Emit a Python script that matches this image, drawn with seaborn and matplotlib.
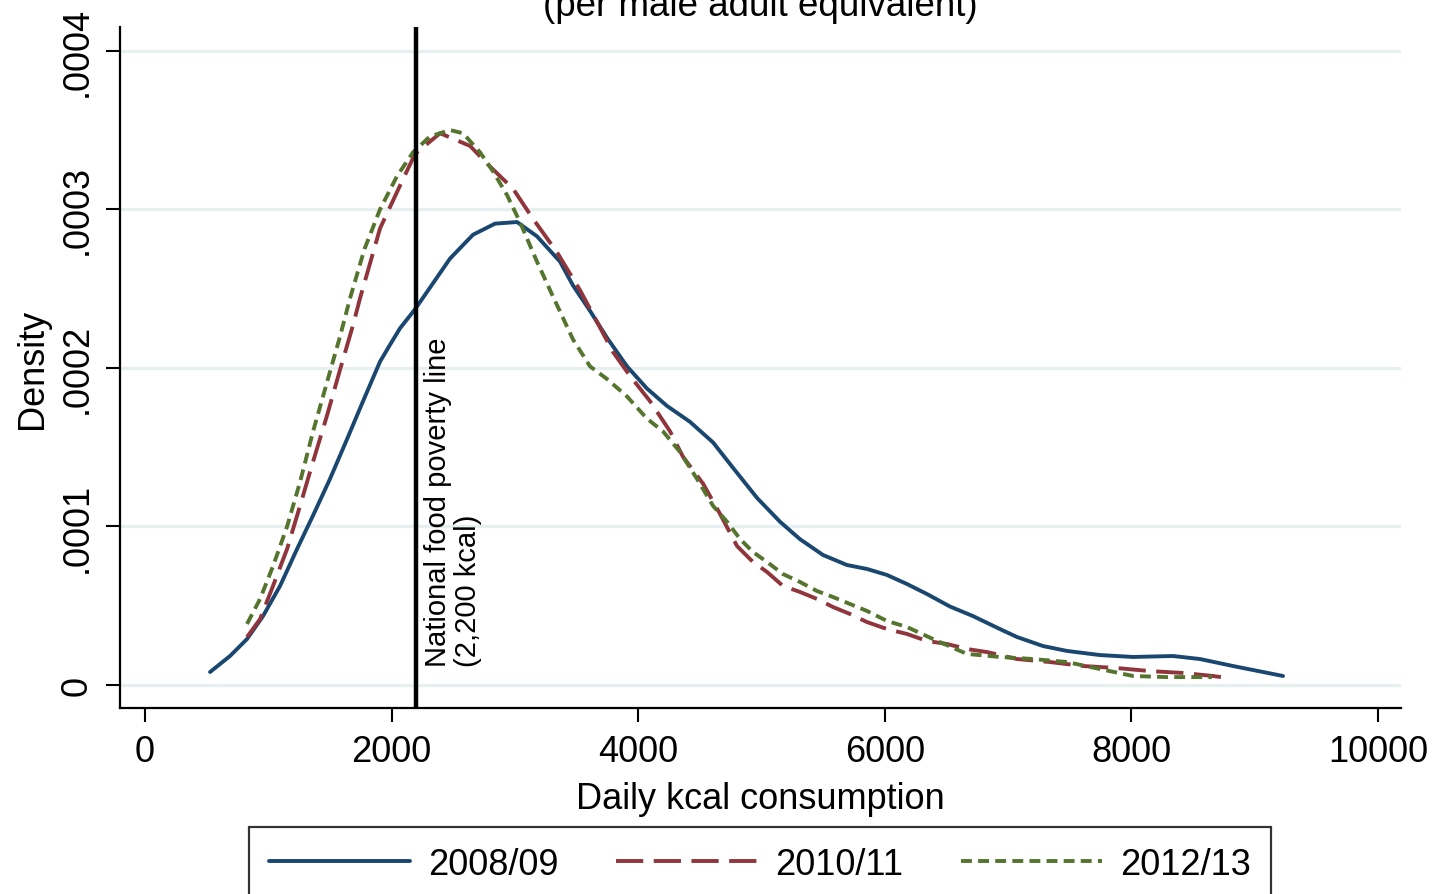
import numpy as np
import pandas as pd
import matplotlib
matplotlib.use("Agg")
import matplotlib.pyplot as plt
import seaborn as sns

# kernel density readings (kcal per male adult equivalent -> density)
kcal_0809 = [527, 689, 827, 957, 1095, 1233, 1363, 1500, 1638, 1768, 1906, 1990, 2068, 2190,
             2474, 2660, 2839, 3017, 3179, 3366, 3471, 3609, 3747, 3909, 4071, 4234,
             4420, 4607, 4769, 4964, 5150, 5312, 5499, 5693, 5856, 6018, 6180, 6342,
             6529, 6715, 6934, 7072, 7283, 7478, 7745, 8013, 8337, 8556, 8824, 9230]
dens_0809 = [0.0000082, 0.0000183, 0.000029, 0.0000435, 0.0000625, 0.0000858, 0.000107,
             0.00013, 0.000155, 0.000179, 0.000204, 0.000215, 0.000225, 0.000237, 0.000269,
             0.000284, 0.000291, 0.000292, 0.000283, 0.000267, 0.000252, 0.000236,
             0.000219, 0.000201, 0.000187, 0.000176, 0.000166, 0.000153, 0.000137,
             0.000118, 0.000103, 0.000092, 0.000082, 0.0000757, 0.0000732, 0.0000694,
             0.0000637, 0.0000574, 0.0000495, 0.0000435, 0.0000353, 0.0000303,
             0.0000246, 0.0000215, 0.0000189, 0.0000177, 0.0000183, 0.0000164,
             0.000012, 0.0000057]

kcal_1011 = [827, 933, 1038, 1152, 1257, 1363, 1476, 1582, 1687, 1744, 1906, 2068, 2190,
             2393, 2636, 2798, 2985, 3147, 3341, 3528, 3666, 3796, 3933, 4096, 4258,
             4363, 4526, 4663, 4801, 4931, 5045, 5174, 5312, 5450, 5580, 5718, 5856,
             6018, 6180, 6342, 6504, 6667, 6829, 7072, 7340, 7608, 7883, 8151, 8418,
             8662, 8783]
dens_1011 = [0.0000303, 0.0000416, 0.0000625, 0.0000858, 0.000113, 0.000141, 0.00017,
             0.000199, 0.000227, 0.000244, 0.000288, 0.000315, 0.000335, 0.000348,
             0.00034, 0.000327, 0.000313, 0.000294, 0.000273, 0.000249, 0.000229,
             0.00021, 0.000195, 0.000179, 0.00016, 0.000144, 0.000127, 0.000108,
             0.0000877, 0.0000776, 0.0000713, 0.0000625, 0.0000587, 0.0000543,
             0.0000492, 0.0000448, 0.0000397, 0.0000353, 0.0000322, 0.0000278,
             0.0000259, 0.0000227, 0.0000208, 0.0000164, 0.0000145, 0.000012,
             0.0000107, 0.0000088, 0.0000076, 0.0000057, 0.0000044]

kcal_1213 = [827, 933, 1038, 1152, 1257, 1363, 1476, 1582, 1663, 1780, 1906, 2044, 2174,
             2311, 2474, 2579, 2717, 2822, 2936, 3041, 3179, 3309, 3471, 3609, 3747,
             3909, 4071, 4201, 4339, 4477, 4607, 4720, 4826, 4931, 5045, 5174, 5312,
             5450, 5580, 5718, 5856, 6018, 6180, 6391, 6667, 6934, 7202, 7478, 7745,
             8013, 8289, 8654]
dens_1213 = [0.0000385, 0.0000543, 0.000075, 0.0001, 0.000128, 0.00016, 0.000191,
             0.00022, 0.000244, 0.000275, 0.0003, 0.000321, 0.000336, 0.000346,
             0.00035, 0.000348, 0.000336, 0.000324, 0.000309, 0.000292, 0.000267,
             0.000245, 0.000218, 0.000201, 0.000193, 0.000182, 0.000168, 0.00016,
             0.000147, 0.00013, 0.000113, 0.000103, 0.0000921, 0.0000839, 0.0000776,
             0.00007, 0.000065, 0.0000593, 0.0000555, 0.0000511, 0.0000467,
             0.0000404, 0.0000366, 0.000029, 0.0000196, 0.0000177, 0.0000164,
             0.0000145, 0.0000101, 0.0000057, 0.000005, 0.000005]

years = ["2008/09", "2010/11", "2012/13"]
x_ticks = [0, 2000, 4000, 6000, 8000, 10000]
y_ticks = [0, 0.0001, 0.0002, 0.0003, 0.0004]
y_tick_labels = ["0", ".0001", ".0002", ".0003", ".0004"]
poverty_line = 2200

sns.set_style("ticks")
plt.rcParams["font.family"] = ["Liberation Sans", "DejaVu Sans"]
plt.rcParams.update({"text.color": "black", "axes.labelcolor": "black",
                     "xtick.color": "black", "ytick.color": "black"})

fig = plt.figure(figsize=(14.35, 8.95), dpi=100)
ax = fig.add_axes([0.0833, 0.2078, 0.893, 0.7609])

# stata-like colours and patterns
colors = ["#1a476f", "#90353b", "#55752f"]
styles = ["-", (0, (7, 2.7)), (0, (2.8, 1.6))]
series = [(kcal_0809, dens_0809), (kcal_1011, dens_1011), (kcal_1213, dens_1213)]

for ax_y in y_ticks:
    ax.axhline(ax_y, color="#e8eff1", lw=2.4, zorder=0)

for (xs, ys), yr, c, ls in zip(series, years, colors, styles):
    df = pd.DataFrame({"kcal": xs, "density": ys})
    sns.lineplot(data=df, x="kcal", y="density", color=c, linewidth=2.8,
                 linestyle=ls, label=yr, sort=False, estimator=None, ax=ax, zorder=3)

if ax.get_legend() is not None:
    ax.get_legend().remove()

ax.axvline(poverty_line, color="black", lw=3.2, zorder=4)
ax.text(poverty_line + 60, 0.000012, "National food poverty line\n(2,200 kcal)",
        rotation=90, ha="left", va="bottom", fontsize=21, linespacing=1.1)

ax.set_xlim(-207, 10187)
ax.set_ylim(-0.0000145, 0.000415)
ax.set_xticks(x_ticks)
ax.set_xticklabels([str(t) for t in x_ticks])
ax.set_yticks(y_ticks)
ax.set_yticklabels(y_tick_labels, rotation=90, va="center")
ax.tick_params(axis="both", labelsize=26, length=10, width=1.5, color="black")
ax.tick_params(axis="x", pad=9)
ax.tick_params(axis="y", pad=8)

for side in ["top", "right"]:
    ax.spines[side].set_visible(False)
for side in ["left", "bottom"]:
    ax.spines[side].set_linewidth(1.6)
    ax.spines[side].set_color("black")

ax.set_xlabel("Daily kcal consumption", fontsize=26, labelpad=8)
ax.set_ylabel("Density", fontsize=26)
ax.yaxis.set_label_coords(-0.054, 0.5)

fig.text(760 / 1435, 1 - 16 / 895, "(per male adult equivalent)", ha="center",
         va="baseline", fontsize=26.5)

handles, labels = ax.get_legend_handles_labels()
leg = fig.legend(handles, labels, loc="upper center", bbox_to_anchor=(760 / 1435, 1 - 828 / 895),
                 ncol=3, fontsize=26, frameon=True, fancybox=False, edgecolor="black",
                 handlelength=3.9, handletextpad=0.5, columnspacing=1.6, borderpad=0.55,
                 borderaxespad=0)
leg.get_frame().set_linewidth(1.6)

plt.savefig("out.png", dpi=100)
